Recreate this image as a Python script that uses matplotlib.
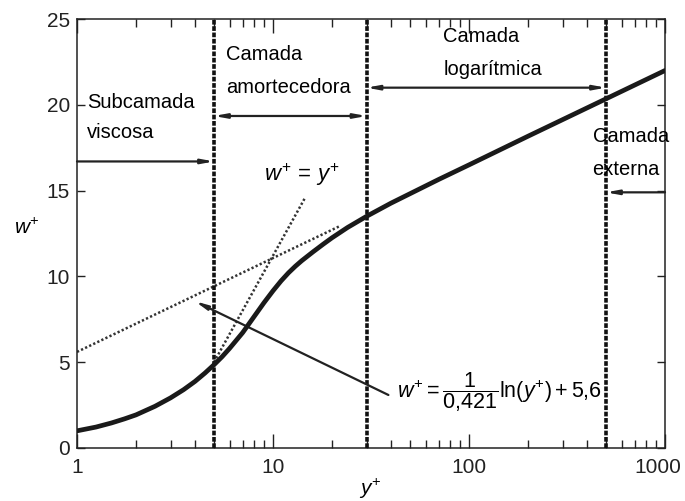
import numpy as np
import matplotlib.pyplot as plt
from matplotlib.transforms import ScaledTranslation

plt.rcParams['font.family'] = ['Liberation Sans', 'DejaVu Sans']
plt.rcParams['mathtext.fontset'] = 'custom'
plt.rcParams['mathtext.rm'] = 'Liberation Sans'
plt.rcParams['mathtext.it'] = 'Liberation Sans:italic'
plt.rcParams['mathtext.sf'] = 'Liberation Sans'

# velocity profile near the wall (y+, w+)
y_plus = [1, 1.25, 1.5, 1.75, 2, 2.5, 3, 3.5, 4, 4.5, 5, 5.5, 6, 7, 8, 9, 10,
          11, 12, 13, 14, 16, 18, 20, 24, 30, 40, 50, 70, 100, 200, 500, 1000]
w_plus = [1.0, 1.22, 1.46, 1.7, 1.93, 2.43, 2.92, 3.4, 3.88, 4.37, 4.85, 5.32,
          5.8, 6.72, 7.65, 8.47, 9.16, 9.74, 10.21, 10.59, 10.91, 11.43, 11.87,
          12.25, 12.85, 13.5, 14.27, 14.82, 15.65, 16.5, 18.17, 20.35, 22.0]

# layer limits
limits = [5, 30, 500]

# law of the wall constants
kappa = 0.421
B = 5.6

fig = plt.figure(figsize=(6.85, 5.01), dpi=100)
ax = fig.add_axes([0.1124, 0.1058, 0.8584, 0.8562])

# viscous sublayer line w+ = y+
y_lin = np.array([5, 14.6])
ax.plot(y_lin, y_lin, ls=(0, (0.9, 0.9)), color='#333333', lw=1.8)

# log law line
y_log = np.array([1, 22])
ax.plot(y_log, np.log(y_log) / kappa + B, ls=(0, (0.9, 0.9)), color='#333333', lw=1.8)

ax.plot(y_plus, w_plus, color='#1a1a1a', lw=3.4, solid_capstyle='round',
        solid_joinstyle='round', zorder=4)

for x in limits:
    ax.axvline(x, color='#111111', lw=2.6, ls=(0, (1.3, 0.45)), zorder=3)

arrow_kw = dict(arrowstyle='-|>,head_length=0.7,head_width=0.13', color='#222222',
                lw=1.6, shrinkA=0, shrinkB=0)
darrow_kw = dict(arrowstyle='<|-|>,head_length=0.7,head_width=0.13', color='#222222',
                 lw=1.6, shrinkA=0, shrinkB=0)

ax.annotate('', xy=(5, 16.7), xytext=(1, 16.7), arrowprops=arrow_kw)
ax.annotate('', xy=(30, 19.35), xytext=(5, 19.35), arrowprops=darrow_kw)
ax.annotate('', xy=(500, 21.0), xytext=(30, 21.0), arrowprops=darrow_kw)
ax.annotate('', xy=(500, 14.9), xytext=(1000, 14.9), arrowprops=arrow_kw)
ax.annotate('', xy=(4.0, 8.55), xytext=(38.8, 3.09), arrowprops=arrow_kw)

# region names, anchored at the baseline of the second line
fs = 14.5
ax.text(1.12, 18.07, 'Subcamada\nviscosa', fontsize=fs, va='baseline', ha='left',
        linespacing=1.75)
ax.text(5.76, 20.69, 'Camada\namortecedora', fontsize=fs, va='baseline', ha='left',
        linespacing=1.92)
ax.text(73.8, 21.74, 'Camada\nlogarítmica', fontsize=fs, va='baseline', ha='left',
        linespacing=1.92)
ax.text(427, 15.91, 'Camada\nexterna', fontsize=fs, va='baseline', ha='left',
        linespacing=1.92)

ax.text(14.1, 15.9, r'$w^{+}\,=\,y^{+}$', fontsize=16, ha='center', va='center')
ax.text(42.8, 3.26, r'$w^{+}=\dfrac{1}{0{,}421}\mathrm{ln}(y^{+})+5{,}6$',
        fontsize=15.5, ha='left', va='center')

ax.set_xscale('log')
ax.set_xlim(1, 1000)
ax.set_ylim(0, 25)
ax.set_xticks([1, 10, 100, 1000])
ax.set_xticklabels(['1', '10', '100', '1000'])
ax.set_yticks([0, 5, 10, 15, 20, 25])
ax.tick_params(axis='x', which='major', direction='in', length=10, width=1,
               top=True, labelsize=15, pad=7, colors='#222222')
ax.tick_params(axis='x', which='minor', direction='in', length=5.5, width=1,
               top=True, colors='#222222')
ax.tick_params(axis='y', which='both', direction='in', length=5.5, width=1,
               right=True, labelsize=15, pad=5, colors='#222222')

# keep the last x label inside the figure
last = ax.get_xticklabels()[-1]
last.set_transform(last.get_transform() + ScaledTranslation(-5 / 72, 0, fig.dpi_scale_trans))

for s in ax.spines.values():
    s.set_linewidth(1.1)
    s.set_color('#222222')

ax.set_ylabel(r'$w^{+}$', fontsize=15, rotation=0)
ax.yaxis.set_label_coords(-0.085, 0.49)
ax.set_xlabel(r'$y^{+}$', fontsize=15)
ax.xaxis.set_label_coords(0.498, -0.068)

fig.savefig('out.png', dpi=100)
